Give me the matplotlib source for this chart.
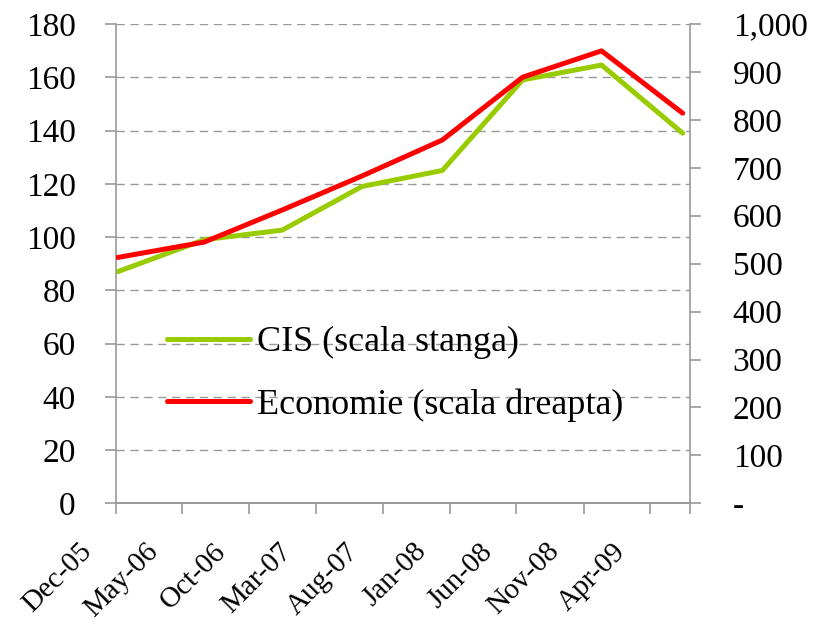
import numpy as np
import matplotlib.pyplot as plt
import matplotlib.ticker as mticker
import matplotlib.dates as mdates
import matplotlib.transforms as mtransforms
import pandas as pd

dates = pd.to_datetime(['2005-12-05', '2006-06-20', '2006-12-15', '2007-06-15',
                        '2007-12-15', '2008-06-15', '2008-12-12', '2009-06-15'])
cis = [87, 99, 102.6, 119, 125, 159, 164.6, 139]
economie = [513, 545, 612, 683, 758, 889, 944, 814]
tick_dates = pd.date_range('2005-12-01', periods=9, freq='5MS')

plt.rcParams['font.family'] = ['Liberation Serif', 'DejaVu Serif']

fig = plt.figure(figsize=(8.14, 6.24), dpi=100)
ax = fig.add_axes([0.1425, 0.1934, 0.7048, 0.7681])
ax2 = ax.twinx()

l1, = ax.plot(dates, cis, color='#99cc00', lw=3.6, solid_capstyle='round')
l2, = ax2.plot(dates, economie, color='#ff0000', lw=3.6, solid_capstyle='round')

ax.set_ylim(0, 180)
ax.set_yticks(np.arange(0, 181, 20))
ax2.set_ylim(0, 1000)
ax2.set_yticks(np.arange(0, 1001, 100))
ax2.yaxis.set_major_formatter(mticker.FuncFormatter(lambda v, p: '-' if v == 0 else f'{int(v):,}'))

ax.set_xlim(pd.Timestamp('2005-12-01'), pd.Timestamp('2009-07-01'))
ax.set_xticks(tick_dates.tolist() + [pd.Timestamp('2009-07-01')])
ax.set_xticklabels([])

ax.yaxis.grid(True, color='#999999', linestyle=(0, (6, 4)), lw=1)
ax.set_axisbelow(True)

for a in (ax, ax2):
    a.spines['top'].set_visible(False)
    for s in ('left', 'right', 'bottom'):
        a.spines[s].set_color('#999999')
        a.spines[s].set_linewidth(1.2)
    a.tick_params(colors='#999999', labelcolor='black', labelsize=24, length=8, width=1.2)
ax2.spines['left'].set_visible(False)
ax.spines['right'].set_visible(False)
ax.tick_params(axis='y', pad=21)
ax2.tick_params(axis='y', pad=23)

# date labels, shifted down-left like the original
offset = mtransforms.ScaledTranslation(-0.37, -0.35, fig.dpi_scale_trans)
for d in tick_dates:
    ax.text(mdates.date2num(d), 0, d.strftime('%b-%y'), transform=ax.get_xaxis_transform() + offset,
            rotation=45, ha='right', va='top', rotation_mode='anchor', fontsize=21)

ax.legend([l1, l2], ['CIS (scala stanga)', 'Economie (scala dreapta)'], frameon=False,
          fontsize=26, loc='upper left', bbox_to_anchor=(0.089, 0.37), borderpad=0,
          borderaxespad=0, handlelength=2.3, handletextpad=0.2, labelspacing=0.8)

plt.savefig('out.png', dpi=100)
